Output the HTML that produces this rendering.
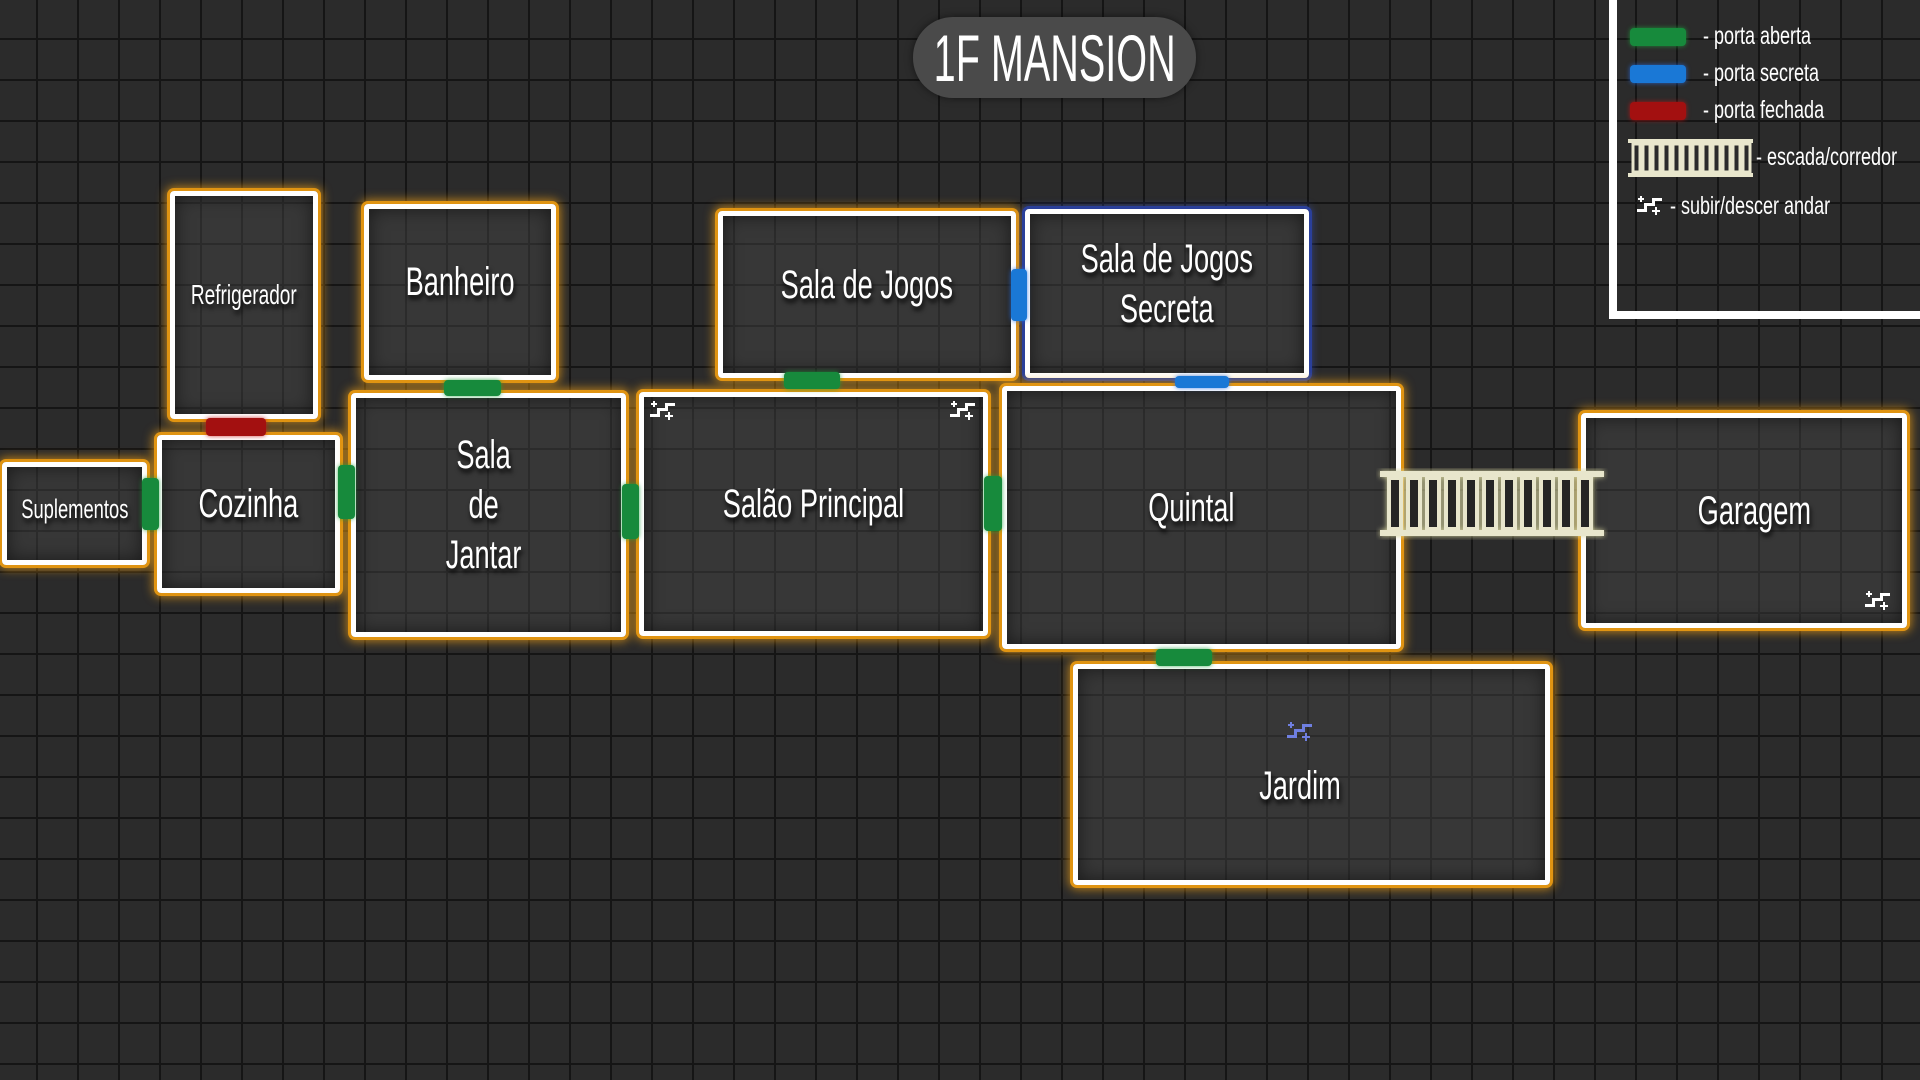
<!DOCTYPE html>
<html><head><meta charset="utf-8">
<style>
html,body{margin:0;padding:0;}
body{width:1920px;height:1080px;overflow:hidden;position:relative;
background-color:#2b2b2b;
background-image:linear-gradient(to right,#151515 2px,transparent 2px),linear-gradient(to bottom,#151515 2px,transparent 2px);
background-size:41px 41px;background-position:36px 38px;
font-family:"Liberation Sans",sans-serif;color:#fff;}
.room{position:absolute;box-sizing:border-box;border:5px solid #fff;border-radius:4px;
background:rgba(70,70,70,0.45);
box-shadow:0 0 0 3px #e09412,0 0 10px 4px rgba(240,160,20,0.75),inset 0 0 18px rgba(0,0,0,0.55);
display:flex;align-items:center;justify-content:center;text-align:center;
font-size:40px;line-height:50px;text-shadow:2px 4px 6px rgba(0,0,0,0.9);white-space:nowrap;}
.room span{display:inline-block;transform:scaleX(0.68);margin-top:-20px;}
.blue{box-shadow:0 0 0 3px #2a3f9a,0 0 8px 3px rgba(60,90,220,0.5),inset 0 0 18px rgba(0,0,0,0.55);}
.door{position:absolute;border-radius:4px;}
.g{background:#178a3c;box-shadow:0 0 5px rgba(30,160,60,0.8);}
.b{background:#1a78d6;box-shadow:0 0 5px rgba(40,110,230,0.8);}
.r{background:#a31010;box-shadow:0 0 5px rgba(200,20,20,0.8);}
.ico{position:absolute;}
.leg{position:absolute;font-size:25px;color:#fff;white-space:nowrap;transform:scaleX(0.72);transform-origin:0 0;}
</style></head><body>

<div style="position:absolute;left:913px;top:17px;width:283px;height:81px;border-radius:40px;background:#4a4a4a;box-shadow:0 0 8px rgba(0,0,0,.5);display:flex;justify-content:center;align-items:center;font-size:66px;white-space:nowrap;"><span style="display:inline-block;transform:scaleX(0.6);">1F MANSION</span></div>

<!-- legend -->
<div style="position:absolute;left:1609px;top:-10px;width:330px;height:329px;box-sizing:border-box;border:8px solid #fff;"></div>
<div class="door g" style="left:1630px;top:28px;width:56px;height:18px"></div>
<div class="door b" style="left:1630px;top:65px;width:56px;height:18px"></div>
<div class="door r" style="left:1630px;top:102px;width:56px;height:18px"></div>
<div class="leg" style="left:1703px;top:22px">- porta aberta</div>
<div class="leg" style="left:1703px;top:59px">- porta secreta</div>
<div class="leg" style="left:1703px;top:96px">- porta fechada</div>
<svg class="ico" style="left:1626px;top:138px" width="130" height="42"><g stroke="#e8e6cc" stroke-width="3" fill="#2a2a2a">
<line x1="2" y1="3" x2="127" y2="3" stroke-width="4"/><line x1="2" y1="37" x2="127" y2="37" stroke-width="4"/>
<rect x="7" y="6" width="7" height="28"/><rect x="17" y="6" width="7" height="28"/><rect x="27" y="6" width="7" height="28"/><rect x="37" y="6" width="7" height="28"/><rect x="47" y="6" width="7" height="28"/><rect x="57" y="6" width="7" height="28"/><rect x="67" y="6" width="7" height="28"/><rect x="77" y="6" width="7" height="28"/><rect x="87" y="6" width="7" height="28"/><rect x="97" y="6" width="7" height="28"/><rect x="107" y="6" width="7" height="28"/><rect x="117" y="6" width="7" height="28"/></g></svg>
<div class="leg" style="left:1756px;top:143px">- escada/corredor</div>
<svg class="ico" style="left:1637px;top:196px" width="28" height="20"><g fill="#fff"><path d="M0 13h7v-6h8v-5h10v3h-7v5h-8v6h-10z"/><path d="M3 0h2v2h2v2h-2v2h-2v-2h-2v-2h2z"/><path d="M18 11h2v3h3v2h-3v3h-2v-3h-3v-2h3z"/></g></svg>
<div class="leg" style="left:1670px;top:192px">- subir/descer andar</div>

<!-- rooms -->
<div class="room" style="left:170px;top:191px;width:148px;height:228px;font-size:28px"><span>Refrigerador</span></div>
<div class="room" style="left:364px;top:204px;width:192px;height:176px"><span>Banheiro</span></div>
<div class="room" style="left:718px;top:211px;width:298px;height:167px"><span>Sala de Jogos</span></div>
<div class="room blue" style="left:1025px;top:209px;width:284px;height:169px"><span>Sala de Jogos<br>Secreta</span></div>
<div class="room" style="left:2px;top:462px;width:145px;height:103px;font-size:27px"><span style="margin-top:-10px">Suplementos</span></div>
<div class="room" style="left:157px;top:435px;width:183px;height:158px"><span>Cozinha</span></div>
<div class="room" style="left:351px;top:393px;width:275px;height:244px;padding-right:10px"><span>Sala<br>de<br>Jantar</span></div>
<div class="room" style="left:639px;top:392px;width:349px;height:244px"><span>Salão Principal</span></div>
<div class="room" style="left:1002px;top:386px;width:399px;height:263px;padding-right:20px"><span>Quintal</span></div>
<div class="room" style="left:1581px;top:413px;width:326px;height:215px;padding-left:20px"><span>Garagem</span></div>
<div class="room" style="left:1073px;top:664px;width:477px;height:221px;padding-right:22px;padding-top:42px"><span>Jardim</span></div>

<!-- corridor -->
<svg class="ico" style="left:1376px;top:468px" width="232" height="72"><g stroke="#e8e6cc" stroke-width="4" fill="#252525" style="filter:drop-shadow(0 0 3px #d8d6a0)">
<line x1="4" y1="6" x2="228" y2="6" stroke-width="6"/><line x1="4" y1="65" x2="228" y2="65" stroke-width="6"/>
<rect x="13" y="10" width="12" height="51"/><rect x="32" y="10" width="12" height="51"/><rect x="51" y="10" width="12" height="51"/><rect x="70" y="10" width="12" height="51"/><rect x="89" y="10" width="12" height="51"/><rect x="108" y="10" width="12" height="51"/><rect x="127" y="10" width="12" height="51"/><rect x="146" y="10" width="12" height="51"/><rect x="165" y="10" width="12" height="51"/><rect x="184" y="10" width="12" height="51"/><rect x="203" y="10" width="12" height="51"/></g></svg>

<!-- doors -->
<div class="door r" style="left:206px;top:418px;width:60px;height:18px"></div>
<div class="door g" style="left:444px;top:380px;width:57px;height:16px"></div>
<div class="door g" style="left:784px;top:372px;width:56px;height:17px"></div>
<div class="door b" style="left:1175px;top:376px;width:54px;height:12px"></div>
<div class="door b" style="left:1011px;top:269px;width:16px;height:52px"></div>
<div class="door g" style="left:142px;top:478px;width:17px;height:52px"></div>
<div class="door g" style="left:338px;top:465px;width:17px;height:54px"></div>
<div class="door g" style="left:622px;top:484px;width:17px;height:55px"></div>
<div class="door g" style="left:984px;top:476px;width:18px;height:55px"></div>
<div class="door g" style="left:1156px;top:649px;width:56px;height:17px"></div>

<!-- stair icons -->
<svg class="ico" style="left:650px;top:401px" width="28" height="20"><g fill="#fff"><path d="M0 13h7v-6h8v-5h10v3h-7v5h-8v6h-10z"/><path d="M3 0h2v2h2v2h-2v2h-2v-2h-2v-2h2z"/><path d="M18 11h2v3h3v2h-3v3h-2v-3h-3v-2h3z"/></g></svg>
<svg class="ico" style="left:950px;top:401px" width="28" height="20"><g fill="#fff"><path d="M0 13h7v-6h8v-5h10v3h-7v5h-8v6h-10z"/><path d="M3 0h2v2h2v2h-2v2h-2v-2h-2v-2h2z"/><path d="M18 11h2v3h3v2h-3v3h-2v-3h-3v-2h3z"/></g></svg>
<svg class="ico" style="left:1865px;top:591px" width="28" height="20"><g fill="#fff"><path d="M0 13h7v-6h8v-5h10v3h-7v5h-8v6h-10z"/><path d="M3 0h2v2h2v2h-2v2h-2v-2h-2v-2h2z"/><path d="M18 11h2v3h3v2h-3v3h-2v-3h-3v-2h3z"/></g></svg>
<svg class="ico" style="left:1287px;top:722px" width="28" height="20"><g fill="#6f7fe0"><path d="M0 13h7v-6h8v-5h10v3h-7v5h-8v6h-10z"/><path d="M3 0h2v2h2v2h-2v2h-2v-2h-2v-2h2z"/><path d="M18 11h2v3h3v2h-3v3h-2v-3h-3v-2h3z"/></g></svg>

</body></html>
